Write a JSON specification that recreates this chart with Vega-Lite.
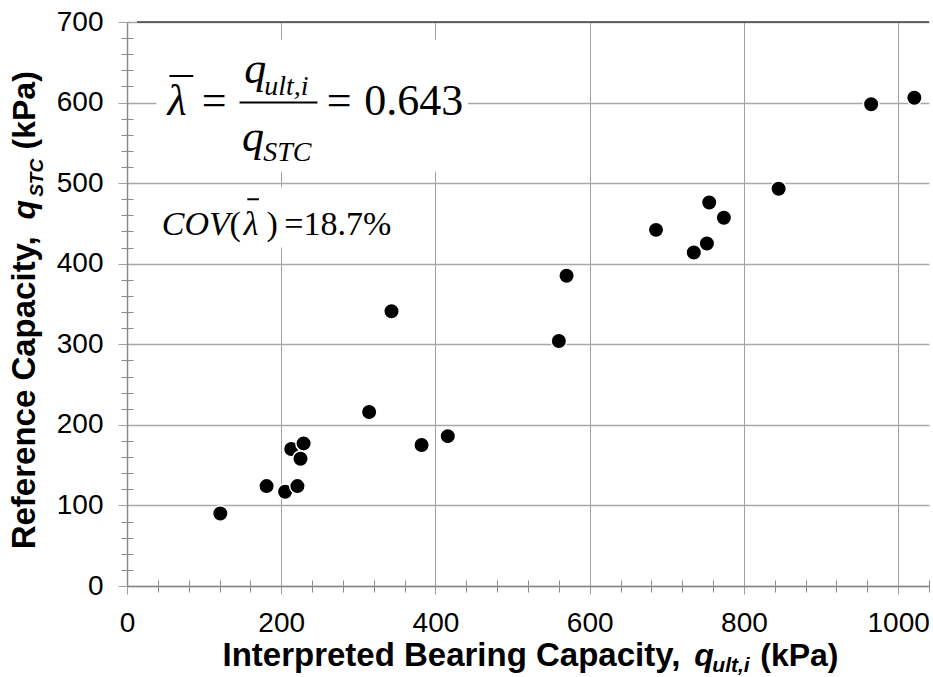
{
  "$schema": "https://vega.github.io/schema/vega-lite/v6.json",
  "width": 802,
  "height": 564,
  "autosize": "none",
  "padding": {"left": 127, "top": 22, "right": 4, "bottom": 91},
  "background": "white",
  "config": {"view": {"stroke": null}},
  "resolve": {"axis": {"x": "independent", "y": "independent"}},
  "datasets": {
    "points": [
      {"q_ult": 121, "q_stc": 90},
      {"q_ult": 181, "q_stc": 124},
      {"q_ult": 205, "q_stc": 117},
      {"q_ult": 221, "q_stc": 124},
      {"q_ult": 213, "q_stc": 170},
      {"q_ult": 229, "q_stc": 177},
      {"q_ult": 225, "q_stc": 158},
      {"q_ult": 314, "q_stc": 216},
      {"q_ult": 343, "q_stc": 341},
      {"q_ult": 382, "q_stc": 175},
      {"q_ult": 416, "q_stc": 186},
      {"q_ult": 560, "q_stc": 304},
      {"q_ult": 570, "q_stc": 385},
      {"q_ult": 686, "q_stc": 442},
      {"q_ult": 735, "q_stc": 414},
      {"q_ult": 752, "q_stc": 425},
      {"q_ult": 755, "q_stc": 476},
      {"q_ult": 774, "q_stc": 457},
      {"q_ult": 845, "q_stc": 493},
      {"q_ult": 965, "q_stc": 598},
      {"q_ult": 1021, "q_stc": 606}
    ],
    "boxes": [
      {"x": 38, "x2": 442, "y": 514, "y2": 678},
      {"x": 38, "x2": 370, "y": 420, "y2": 495}
    ],
    "bars": [
      {"x": 55, "x2": 86, "y": 633},
      {"x": 146, "x2": 247, "y": 600},
      {"x": 156, "x2": 171, "y": 480}
    ],
    "border": [{"x": 13, "x2": 1040, "y": 700}]
  },
  "layer": [
    {
      "data": {"name": "boxes"},
      "mark": {"type": "rect", "color": "white"},
      "encoding": {
        "x": {"field": "x", "type": "quantitative", "scale": {"domain": [0, 1040], "nice": false, "zero": false},
          "axis": {"orient": "bottom", "values": [40, 80, 120, 160, 240, 280, 320, 360, 440, 480, 520, 560, 640, 680, 720, 760, 840, 880, 920, 960, 1040],
            "grid": false, "domain": false, "labels": false, "ticks": true, "tickSize": 12, "offset": -6, "tickColor": "#8c8c8c", "title": null}},
        "x2": {"field": "x2"},
        "y": {"field": "y", "type": "quantitative", "scale": {"domain": [0, 700], "nice": false, "zero": false},
          "axis": {"orient": "left", "values": [20, 40, 60, 80, 120, 140, 160, 180, 220, 240, 260, 280, 320, 340, 360, 380, 420, 440, 460, 480, 520, 540, 560, 580, 620, 640, 660, 680],
            "grid": false, "domain": false, "labels": false, "ticks": true, "tickSize": 12, "offset": -6, "tickColor": "#8c8c8c", "title": null}},
        "y2": {"field": "y2"}
      }
    },
    {
      "data": {"name": "border"},
      "mark": {"type": "rule", "color": "#404040", "strokeWidth": 1.5},
      "encoding": {
        "x": {"field": "x", "type": "quantitative", "scale": {"domain": [0, 1040], "nice": false, "zero": false}, "axis": null},
        "x2": {"field": "x2"},
        "y": {"field": "y", "type": "quantitative", "scale": {"domain": [0, 700], "nice": false, "zero": false}, "axis": null}
      }
    },
    {
      "data": {"name": "points"},
      "mark": {"type": "circle", "color": "black", "opacity": 1, "size": 240, "stroke": "white", "strokeWidth": 1.5},
      "encoding": {
        "x": {"field": "q_ult", "type": "quantitative", "scale": {"domain": [0, 1040], "nice": false, "zero": false},
          "axis": {"orient": "bottom", "values": [0, 200, 400, 600, 800, 1000], "format": "d", "grid": true, "gridColor": "#a0a0a0", "gridWidth": 1,
            "domainColor": "#8c8c8c", "domainWidth": 1.5, "tickColor": "#a0a0a0", "tickSize": 8,
            "labelFont": "Liberation Sans", "labelFontSize": 28, "labelColor": "black", "labelPadding": 37, "labelBaseline": "alphabetic",
            "labelFlush": false, "labelOverlap": false, "title": null}},
        "y": {"field": "q_stc", "type": "quantitative", "scale": {"domain": [0, 700], "nice": false, "zero": false},
          "axis": {"orient": "left", "values": [0, 100, 200, 300, 400, 500, 600, 700], "format": "d", "grid": true, "gridColor": "#a8a8a8", "gridWidth": 1.3,
            "domainColor": "#8c8c8c", "domainWidth": 1.5, "tickColor": "#a0a0a0", "tickSize": 9,
            "labelFont": "Liberation Sans", "labelFontSize": 28, "labelColor": "black", "labelPadding": 15,
            "labelFlush": false, "labelOverlap": false, "title": null}}
      }
    },
    {
      "data": {"name": "bars"},
      "mark": {"type": "rule", "color": "black", "strokeWidth": 2},
      "encoding": {
        "x": {"field": "x", "type": "quantitative", "scale": {"domain": [0, 1040], "nice": false, "zero": false}, "axis": null},
        "x2": {"field": "x2"},
        "y": {"field": "y", "type": "quantitative", "scale": {"domain": [0, 700], "nice": false, "zero": false}, "axis": null}
      }
    },
    {
      "data": {"values": [{"x": 65, "y": 585, "t": "λ"}]},
      "mark": {"type": "text", "font": "Liberation Serif", "fontStyle": "italic", "fontSize": 44, "align": "center", "baseline": "alphabetic", "color": "black"},
      "encoding": {
        "x": {"field": "x", "type": "quantitative", "scale": {"domain": [0, 1040], "nice": false, "zero": false}, "axis": null},
        "y": {"field": "y", "type": "quantitative", "scale": {"domain": [0, 700], "nice": false, "zero": false}, "axis": null},
        "text": {"field": "t"}
      }
    },
    {
      "data": {"values": [{"x": 152, "y": 624.7, "t": "q"}, {"x": 149, "y": 539.5, "t": "q"}]},
      "mark": {"type": "text", "font": "Liberation Serif", "fontStyle": "italic", "fontSize": 44, "align": "left", "baseline": "alphabetic", "color": "black"},
      "encoding": {
        "x": {"field": "x", "type": "quantitative", "scale": {"domain": [0, 1040], "nice": false, "zero": false}, "axis": null},
        "y": {"field": "y", "type": "quantitative", "scale": {"domain": [0, 700], "nice": false, "zero": false}, "axis": null},
        "text": {"field": "t"}
      }
    },
    {
      "data": {"values": [{"x": 113, "y": 585, "t": "="}, {"x": 275, "y": 585, "t": "="}]},
      "mark": {"type": "text", "font": "Liberation Serif", "fontSize": 44, "align": "center", "baseline": "alphabetic", "color": "black"},
      "encoding": {
        "x": {"field": "x", "type": "quantitative", "scale": {"domain": [0, 1040], "nice": false, "zero": false}, "axis": null},
        "y": {"field": "y", "type": "quantitative", "scale": {"domain": [0, 700], "nice": false, "zero": false}, "axis": null},
        "text": {"field": "t"}
      }
    },
    {
      "data": {"values": [{"x": 307.6, "y": 585, "t": "0.643"}]},
      "mark": {"type": "text", "font": "Liberation Serif", "fontSize": 44, "align": "left", "baseline": "alphabetic", "color": "black"},
      "encoding": {
        "x": {"field": "x", "type": "quantitative", "scale": {"domain": [0, 1040], "nice": false, "zero": false}, "axis": null},
        "y": {"field": "y", "type": "quantitative", "scale": {"domain": [0, 700], "nice": false, "zero": false}, "axis": null},
        "text": {"field": "t"}
      }
    },
    {
      "data": {"values": [{"x": 178, "y": 609.6, "t": "ult,i"}, {"x": 176.7, "y": 527, "t": "STC"}]},
      "mark": {"type": "text", "font": "Liberation Serif", "fontStyle": "italic", "fontSize": 28, "align": "left", "baseline": "alphabetic", "color": "black"},
      "encoding": {
        "x": {"field": "x", "type": "quantitative", "scale": {"domain": [0, 1040], "nice": false, "zero": false}, "axis": null},
        "y": {"field": "y", "type": "quantitative", "scale": {"domain": [0, 700], "nice": false, "zero": false}, "axis": null},
        "text": {"field": "t"}
      }
    },
    {
      "data": {"values": [{"x": 45, "y": 436, "t": "COV"}]},
      "mark": {"type": "text", "font": "Liberation Serif", "fontStyle": "italic", "fontSize": 34, "align": "left", "baseline": "alphabetic", "color": "black"},
      "encoding": {
        "x": {"field": "x", "type": "quantitative", "scale": {"domain": [0, 1040], "nice": false, "zero": false}, "axis": null},
        "y": {"field": "y", "type": "quantitative", "scale": {"domain": [0, 700], "nice": false, "zero": false}, "axis": null},
        "text": {"field": "t"}
      }
    },
    {
      "data": {"values": [{"x": 161, "y": 436, "t": "λ"}]},
      "mark": {"type": "text", "font": "Liberation Serif", "fontStyle": "italic", "fontSize": 34, "align": "center", "baseline": "alphabetic", "color": "black"},
      "encoding": {
        "x": {"field": "x", "type": "quantitative", "scale": {"domain": [0, 1040], "nice": false, "zero": false}, "axis": null},
        "y": {"field": "y", "type": "quantitative", "scale": {"domain": [0, 700], "nice": false, "zero": false}, "axis": null},
        "text": {"field": "t"}
      }
    },
    {
      "data": {"values": [{"x": 133, "y": 436, "t": "("}, {"x": 181, "y": 436, "t": ")"}, {"x": 204, "y": 436, "t": "=18.7%"}]},
      "mark": {"type": "text", "font": "Liberation Serif", "fontSize": 34, "align": "left", "baseline": "alphabetic", "color": "black"},
      "encoding": {
        "x": {"field": "x", "type": "quantitative", "scale": {"domain": [0, 1040], "nice": false, "zero": false}, "axis": null},
        "y": {"field": "y", "type": "quantitative", "scale": {"domain": [0, 700], "nice": false, "zero": false}, "axis": null},
        "text": {"field": "t"}
      }
    },
    {
      "data": {"values": [{"x": 717.5, "y": -99.2, "t": "Interpreted Bearing Capacity,"}]},
      "mark": {"type": "text", "font": "Liberation Sans", "fontWeight": "bold", "fontSize": 33, "align": "right", "baseline": "alphabetic", "color": "black"},
      "encoding": {
        "x": {"field": "x", "type": "quantitative", "scale": {"domain": [0, 1040], "nice": false, "zero": false}, "axis": null},
        "y": {"field": "y", "type": "quantitative", "scale": {"domain": [0, 700], "nice": false, "zero": false}, "axis": null},
        "text": {"field": "t"}
      }
    },
    {
      "data": {"values": [{"x": 821.2, "y": -99.2, "t": "(kPa)"}]},
      "mark": {"type": "text", "font": "Liberation Sans", "fontWeight": "bold", "fontSize": 32, "align": "left", "baseline": "alphabetic", "color": "black"},
      "encoding": {
        "x": {"field": "x", "type": "quantitative", "scale": {"domain": [0, 1040], "nice": false, "zero": false}, "axis": null},
        "y": {"field": "y", "type": "quantitative", "scale": {"domain": [0, 700], "nice": false, "zero": false}, "axis": null},
        "text": {"field": "t"}
      }
    },
    {
      "data": {"values": [{"x": 735.7, "y": -99.2, "t": "q"}]},
      "mark": {"type": "text", "font": "Liberation Sans", "fontWeight": "bold", "fontStyle": "italic", "fontSize": 32, "align": "left", "baseline": "alphabetic", "color": "black"},
      "encoding": {
        "x": {"field": "x", "type": "quantitative", "scale": {"domain": [0, 1040], "nice": false, "zero": false}, "axis": null},
        "y": {"field": "y", "type": "quantitative", "scale": {"domain": [0, 700], "nice": false, "zero": false}, "axis": null},
        "text": {"field": "t"}
      }
    },
    {
      "data": {"values": [{"x": 759, "y": -106.6, "t": "ult,i"}]},
      "mark": {"type": "text", "font": "Liberation Sans", "fontWeight": "bold", "fontStyle": "italic", "fontSize": 21, "align": "left", "baseline": "alphabetic", "color": "black"},
      "encoding": {
        "x": {"field": "x", "type": "quantitative", "scale": {"domain": [0, 1040], "nice": false, "zero": false}, "axis": null},
        "y": {"field": "y", "type": "quantitative", "scale": {"domain": [0, 700], "nice": false, "zero": false}, "axis": null},
        "text": {"field": "t"}
      }
    },
    {
      "data": {"values": [{"x": -118.9, "y": 45.5, "t": "Reference Capacity,"}]},
      "mark": {"type": "text", "font": "Liberation Sans", "fontWeight": "bold", "fontSize": 33, "angle": 270, "align": "left", "baseline": "alphabetic", "color": "black"},
      "encoding": {
        "x": {"field": "x", "type": "quantitative", "scale": {"domain": [0, 1040], "nice": false, "zero": false}, "axis": null},
        "y": {"field": "y", "type": "quantitative", "scale": {"domain": [0, 700], "nice": false, "zero": false}, "axis": null},
        "text": {"field": "t"}
      }
    },
    {
      "data": {"values": [{"x": -118.9, "y": 541.8, "t": "(kPa)"}]},
      "mark": {"type": "text", "font": "Liberation Sans", "fontWeight": "bold", "fontSize": 32, "angle": 270, "align": "left", "baseline": "alphabetic", "color": "black"},
      "encoding": {
        "x": {"field": "x", "type": "quantitative", "scale": {"domain": [0, 1040], "nice": false, "zero": false}, "axis": null},
        "y": {"field": "y", "type": "quantitative", "scale": {"domain": [0, 700], "nice": false, "zero": false}, "axis": null},
        "text": {"field": "t"}
      }
    },
    {
      "data": {"values": [{"x": -118.9, "y": 454.8, "t": "q"}]},
      "mark": {"type": "text", "font": "Liberation Sans", "fontWeight": "bold", "fontStyle": "italic", "fontSize": 32, "angle": 270, "align": "left", "baseline": "alphabetic", "color": "black"},
      "encoding": {
        "x": {"field": "x", "type": "quantitative", "scale": {"domain": [0, 1040], "nice": false, "zero": false}, "axis": null},
        "y": {"field": "y", "type": "quantitative", "scale": {"domain": [0, 700], "nice": false, "zero": false}, "axis": null},
        "text": {"field": "t"}
      }
    },
    {
      "data": {"values": [{"x": -108.5, "y": 483, "t": "STC"}]},
      "mark": {"type": "text", "font": "Liberation Sans", "fontWeight": "bold", "fontStyle": "italic", "fontSize": 19, "angle": 270, "align": "left", "baseline": "alphabetic", "color": "black"},
      "encoding": {
        "x": {"field": "x", "type": "quantitative", "scale": {"domain": [0, 1040], "nice": false, "zero": false}, "axis": null},
        "y": {"field": "y", "type": "quantitative", "scale": {"domain": [0, 700], "nice": false, "zero": false}, "axis": null},
        "text": {"field": "t"}
      }
    }
  ]
}
